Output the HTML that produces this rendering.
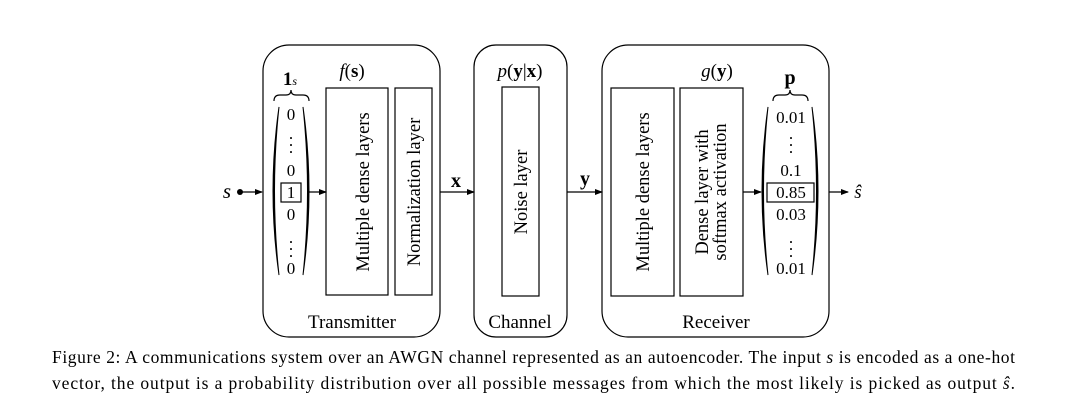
<!DOCTYPE html>
<html><head><meta charset="utf-8"><style>
html,body{margin:0;padding:0;background:#fff;}
svg{display:block;}
text{font-family:"Liberation Serif",serif;fill:#000;}
</style></head><body>
<svg width="1069" height="418" viewBox="0 0 1069 418" xmlns="http://www.w3.org/2000/svg">
<defs><marker id="a" markerWidth="8" markerHeight="8" refX="7" refY="4" orient="auto" markerUnits="userSpaceOnUse"><path d="M0,1 L8,4 L0,7 Z" fill="#000"/></marker></defs>
<g fill="none" stroke="#000" stroke-width="1.2">
<rect x="263" y="45" width="177" height="292" rx="26"/>
<rect x="474" y="45" width="93" height="292" rx="22"/>
<rect x="602" y="45" width="227" height="292" rx="26"/>
<rect x="326" y="88" width="62" height="207"/>
<rect x="395" y="88" width="37" height="207"/>
<rect x="502" y="87" width="37" height="209"/>
<rect x="611" y="88" width="63" height="208"/>
<rect x="680" y="88" width="63" height="208"/>
<rect x="281" y="183" width="20" height="19"/>
<rect x="767" y="183" width="47" height="19"/>
</g>
<g fill="#000" stroke="none">
<path d="M279,107 Q267,191 279,275 Q270,191 279,107 Z" stroke="#000" stroke-width="1"/>
<path d="M303,107 Q315,191 303,275 Q312,191 303,107 Z" stroke="#000" stroke-width="1"/>
<path d="M768,107 Q756,191 768,275 Q759,191 768,107 Z" stroke="#000" stroke-width="1"/>
<path d="M812,107 Q824,191 812,275 Q821,191 812,107 Z" stroke="#000" stroke-width="1"/>
</g>
<g fill="none" stroke="#000" stroke-width="1.2">
<path d="M274,101 Q274,95 280,95 L286,95 Q291,95 291,90 Q291,95 296,95 L303,95 Q309,95 309,101"/>
<path d="M773,101 Q773,95 779,95 L785,95 Q790,95 790,90 Q790,95 795,95 L802,95 Q808,95 808,101"/>
<line x1="240" y1="192" x2="262" y2="192" marker-end="url(#a)"/>
<line x1="308" y1="192" x2="326" y2="192" marker-end="url(#a)"/>
<line x1="440" y1="192" x2="474" y2="192" marker-end="url(#a)"/>
<line x1="567" y1="192" x2="602" y2="192" marker-end="url(#a)"/>
<line x1="743" y1="192" x2="761" y2="192" marker-end="url(#a)"/>
<line x1="829" y1="192" x2="848" y2="192" marker-end="url(#a)"/>
</g>
<circle cx="240" cy="192" r="3" fill="#000"/>
<g font-size="19" text-anchor="middle">
<text x="227" y="198" font-style="italic" font-size="21">s</text>
<text x="858" y="198" font-style="italic" font-size="19">ŝ</text>
<text x="456" y="187" font-weight="bold" font-size="20">x</text>
<text x="585" y="185" font-weight="bold" font-size="20">y</text>
<text x="352" y="77"><tspan font-style="italic">f</tspan>(<tspan font-weight="bold">s</tspan>)</text>
<text x="520" y="77"><tspan font-style="italic">p</tspan>(<tspan font-weight="bold">y</tspan>|<tspan font-weight="bold">x</tspan>)</text>
<text x="717" y="77"><tspan font-style="italic">g</tspan>(<tspan font-weight="bold">y</tspan>)</text>
<text x="290" y="85" font-weight="bold" font-size="19">1<tspan font-style="italic" font-weight="normal" font-size="12">s</tspan></text>
<text x="790" y="84" font-weight="bold" font-size="20">p</text>
<text x="352" y="328">Transmitter</text>
<text x="520" y="328">Channel</text>
<text x="716" y="328">Receiver</text>
<g font-size="17">
<text x="291" y="120">0</text>
<text x="291" y="139">.</text><text x="291" y="146">.</text><text x="291" y="153">.</text>
<text x="291" y="176">0</text>
<text x="291" y="198">1</text>
<text x="291" y="220">0</text>
<text x="291" y="243">.</text><text x="291" y="250">.</text><text x="291" y="257">.</text>
<text x="291" y="274">0</text>
<text x="791" y="123">0.01</text>
<text x="791" y="139">.</text><text x="791" y="146">.</text><text x="791" y="153">.</text>
<text x="791" y="176">0.1</text>
<text x="791" y="198">0.85</text>
<text x="791" y="220">0.03</text>
<text x="791" y="243">.</text><text x="791" y="250">.</text><text x="791" y="257">.</text>
<text x="791" y="274">0.01</text>
</g>
<text transform="translate(363,192) rotate(-90)" dy="6" font-size="18.5">Multiple dense layers</text>
<text transform="translate(414,192) rotate(-90)" dy="6" font-size="18.5">Normalization layer</text>
<text transform="translate(521,192) rotate(-90)" dy="6" font-size="18.5">Noise layer</text>
<text transform="translate(643,192) rotate(-90)" dy="6" font-size="18.5">Multiple dense layers</text>
<text transform="translate(711,192) rotate(-90)" dy="-3" font-size="18.5">Dense layer with</text>
<text transform="translate(711,192) rotate(-90)" dy="15" font-size="18.5">softmax activation</text>
</g>
<text x="52" y="363" font-size="17.5" textLength="963" lengthAdjust="spacing">Figure 2: A communications system over an AWGN channel represented as an autoencoder. The input <tspan font-style="italic">s</tspan> is encoded as a one-hot</text>
<text x="52" y="389" font-size="17.5" textLength="963" lengthAdjust="spacing">vector, the output is a probability distribution over all possible messages from which the most likely is picked as output <tspan font-style="italic">ŝ</tspan>.</text>
</svg>
</body></html>
